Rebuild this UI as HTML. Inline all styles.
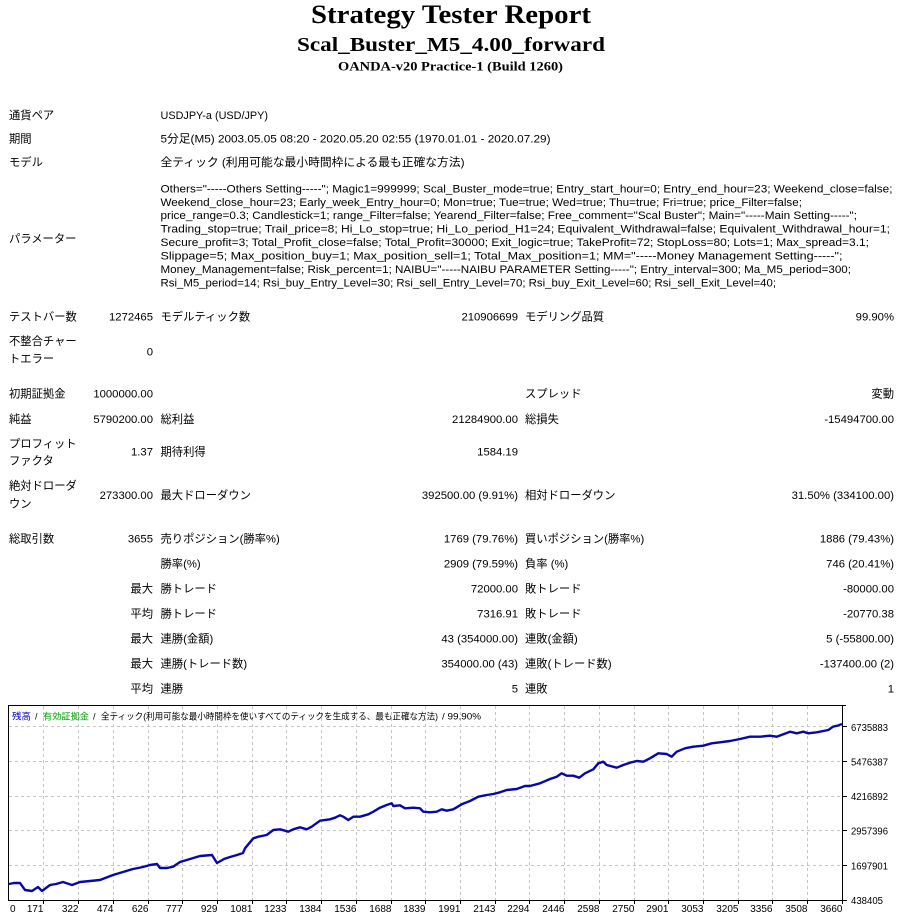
<!DOCTYPE html>
<html><head><meta charset="utf-8"><style>
html,body{margin:0;padding:0;background:#fff;}
svg{display:block;}
text{font-family:"Liberation Sans","Noto Sans CJK JP",sans-serif;font-size:11.3px;fill:#000;}
.h{font-family:"Liberation Serif","Noto Serif CJK SC",serif;font-weight:bold;}
.r{text-anchor:end;}
.ax{font-size:10px;}
.lg{font-size:9px;}
</style></head><body>
<svg width="900" height="923" viewBox="0 0 900 923" xmlns="http://www.w3.org/2000/svg">
<rect width="900" height="923" fill="#fff"/>
<!-- header -->
<text class="h" x="311" y="23" style="font-size:26px" textLength="280" lengthAdjust="spacingAndGlyphs">Strategy Tester Report</text>
<text class="h" x="297" y="51" style="font-size:20px" textLength="308" lengthAdjust="spacingAndGlyphs">Scal_Buster_M5_4.00_forward</text>
<text class="h" x="338" y="70.5" style="font-size:13px" textLength="225" lengthAdjust="spacingAndGlyphs">OANDA-v20 Practice-1 (Build 1260)</text>

<!-- top info -->
<text x="9" y="119">通貨ペア</text>
<text x="160.5" y="119" textLength="107.5" lengthAdjust="spacingAndGlyphs">USDJPY-a (USD/JPY)</text>
<text x="9" y="142.5">期間</text>
<text x="160.5" y="142.5" textLength="390" lengthAdjust="spacingAndGlyphs">5分足(M5) 2003.05.05 08:20 - 2020.05.20 02:55 (1970.01.01 - 2020.07.29)</text>
<text x="9" y="166">モデル</text>
<text x="160.5" y="166" textLength="304" lengthAdjust="spacingAndGlyphs">全ティック (利用可能な最小時間枠による最も正確な方法)</text>

<!-- parameters -->
<text x="9" y="242.3">パラメーター</text>
<text x="160.5" y="192.3" textLength="732" lengthAdjust="spacingAndGlyphs">Others="-----Others Setting-----"; Magic1=999999; Scal_Buster_mode=true; Entry_start_hour=0; Entry_end_hour=23; Weekend_close=false;</text>
<text x="160.5" y="205.8" textLength="641.5" lengthAdjust="spacingAndGlyphs">Weekend_close_hour=23; Early_week_Entry_hour=0; Mon=true; Tue=true; Wed=true; Thu=true; Fri=true; price_Filter=false;</text>
<text x="160.5" y="219.2" textLength="696.5" lengthAdjust="spacingAndGlyphs">price_range=0.3; Candlestick=1; range_Filter=false; Yearend_Filter=false; Free_comment="Scal Buster"; Main="-----Main Setting-----";</text>
<text x="160.5" y="232.7" textLength="729.5" lengthAdjust="spacingAndGlyphs">Trading_stop=true; Trail_price=8; Hi_Lo_stop=true; Hi_Lo_period_H1=24; Equivalent_Withdrawal=false; Equivalent_Withdrawal_hour=1;</text>
<text x="160.5" y="246.2" textLength="708.5" lengthAdjust="spacingAndGlyphs">Secure_profit=3; Total_Profit_close=false; Total_Profit=30000; Exit_logic=true; TakeProfit=72; StopLoss=80; Lots=1; Max_spread=3.1;</text>
<text x="160.5" y="259.6" textLength="682" lengthAdjust="spacingAndGlyphs">Slippage=5; Max_position_buy=1; Max_position_sell=1; Total_Max_position=1; MM="-----Money Management Setting-----";</text>
<text x="160.5" y="273.1" textLength="690.5" lengthAdjust="spacingAndGlyphs">Money_Management=false; Risk_percent=1; NAIBU="-----NAIBU PARAMETER Setting-----"; Entry_interval=300; Ma_M5_period=300;</text>
<text x="160.5" y="286.6" textLength="615.5" lengthAdjust="spacingAndGlyphs">Rsi_M5_period=14; Rsi_buy_Entry_Level=30; Rsi_sell_Entry_Level=70; Rsi_buy_Exit_Level=60; Rsi_sell_Exit_Level=40;</text>

<!-- stats -->
<text x="9" y="320.7">テストバー数</text>
<text class="r" x="153" y="320.7">1272465</text>
<text x="160.5" y="320.7">モデルティック数</text>
<text class="r" x="518" y="320.7">210906699</text>
<text x="525" y="320.7">モデリング品質</text>
<text class="r" x="894" y="320.7">99.90%</text>

<text x="9" y="345">不整合チャー</text>
<text x="9" y="362.3">トエラー</text>
<text class="r" x="153" y="355.7">0</text>

<text x="9" y="397.3">初期証拠金</text>
<text class="r" x="153" y="397.3">1000000.00</text>
<text x="525" y="397.3">スプレッド</text>
<text class="r" x="894" y="397.3">変動</text>

<text x="9" y="423">純益</text>
<text class="r" x="153" y="423">5790200.00</text>
<text x="160.5" y="423">総利益</text>
<text class="r" x="518" y="423">21284900.00</text>
<text x="525" y="423">総損失</text>
<text class="r" x="894" y="423">-15494700.00</text>

<text x="9" y="447.3">プロフィット</text>
<text x="9" y="464.7">ファクタ</text>
<text class="r" x="153" y="455.7">1.37</text>
<text x="160.5" y="455.7">期待利得</text>
<text class="r" x="518" y="455.7">1584.19</text>

<text x="9" y="489.7">絶対ドローダ</text>
<text x="9" y="507.3">ウン</text>
<text class="r" x="153" y="499">273300.00</text>
<text x="160.5" y="499">最大ドローダウン</text>
<text class="r" x="518" y="499">392500.00 (9.91%)</text>
<text x="525" y="499">相対ドローダウン</text>
<text class="r" x="894" y="499">31.50% (334100.00)</text>

<text x="9" y="542.3">総取引数</text>
<text class="r" x="153" y="542.3">3655</text>
<text x="160.5" y="542.3">売りポジション(勝率%)</text>
<text class="r" x="518" y="542.3">1769 (79.76%)</text>
<text x="525" y="542.3">買いポジション(勝率%)</text>
<text class="r" x="894" y="542.3">1886 (79.43%)</text>

<text x="160.5" y="567.3">勝率(%)</text>
<text class="r" x="518" y="567.3">2909 (79.59%)</text>
<text x="525" y="567.3">負率 (%)</text>
<text class="r" x="894" y="567.3">746 (20.41%)</text>

<text class="r" x="153" y="592.3">最大</text>
<text x="160.5" y="592.3">勝トレード</text>
<text class="r" x="518" y="592.3">72000.00</text>
<text x="525" y="592.3">敗トレード</text>
<text class="r" x="894" y="592.3">-80000.00</text>

<text class="r" x="153" y="617.3">平均</text>
<text x="160.5" y="617.3">勝トレード</text>
<text class="r" x="518" y="617.3">7316.91</text>
<text x="525" y="617.3">敗トレード</text>
<text class="r" x="894" y="617.3">-20770.38</text>

<text class="r" x="153" y="642.3">最大</text>
<text x="160.5" y="642.3">連勝(金額)</text>
<text class="r" x="518" y="642.3">43 (354000.00)</text>
<text x="525" y="642.3">連敗(金額)</text>
<text class="r" x="894" y="642.3">5 (-55800.00)</text>

<text class="r" x="153" y="667.3">最大</text>
<text x="160.5" y="667.3">連勝(トレード数)</text>
<text class="r" x="518" y="667.3">354000.00 (43)</text>
<text x="525" y="667.3">連敗(トレード数)</text>
<text class="r" x="894" y="667.3">-137400.00 (2)</text>

<text class="r" x="153" y="692.3">平均</text>
<text x="160.5" y="692.3">連勝</text>
<text class="r" x="518" y="692.3">5</text>
<text x="525" y="692.3">連敗</text>
<text class="r" x="894" y="692.3">1</text>

<!-- chart grid -->
<g stroke="#c4c4c4" stroke-width="1" stroke-dasharray="3,3" fill="none">
<path d="M43.5 706V900M78.5 706V900M113.5 706V900M148.5 706V900M182.5 706V900M217.5 706V900M252.5 706V900M286.5 706V900M321.5 706V900M356.5 706V900M391.5 706V900M425.5 706V900M460.5 706V900M495.5 706V900M529.5 706V900M564.5 706V900M599.5 706V900M634.5 706V900M668.5 706V900M703.5 706V900M738.5 706V900M772.5 706V900M807.5 706V900"/>
<path d="M9 865.5H842M9 830.5H842M9 796.5H842M9 761.5H842M9 726.5H842"/>
</g>
<!-- frame -->
<g stroke="#000" stroke-width="1" fill="none">
<path d="M8 705.5H846"/>
<path d="M8.5 705V901"/>
<path d="M842.5 705V901"/>
<path d="M8 900.5H843"/>
<path d="M843 865.5H847M843 830.5H847M843 796.5H847M843 761.5H847M843 726.5H847M843 900.5H847"/>
<path d="M43.5 900V904M78.5 900V904M113.5 900V904M148.5 900V904M182.5 900V904M217.5 900V904M252.5 900V904M286.5 900V904M321.5 900V904M356.5 900V904M391.5 900V904M425.5 900V904M460.5 900V904M495.5 900V904M529.5 900V904M564.5 900V904M599.5 900V904M634.5 900V904M668.5 900V904M703.5 900V904M738.5 900V904M772.5 900V904M807.5 900V904M842.5 900V904"/>
</g>

<!-- legend -->
<text class="lg" x="12" y="719.5" style="fill:#0000c0" textLength="19" lengthAdjust="spacingAndGlyphs">残高</text>
<text class="lg" x="35" y="719.5">/</text>
<text class="lg" x="43" y="719.5" style="fill:#00a000" textLength="46" lengthAdjust="spacingAndGlyphs">有効証拠金</text>
<text class="lg" x="93" y="719.5">/</text>
<text class="lg" x="101" y="719.5" textLength="337" lengthAdjust="spacingAndGlyphs">全ティック(利用可能な最小時間枠を使いすべてのティックを生成する、最も正確な方法)</text>
<text class="lg" x="442" y="719.5" textLength="39" lengthAdjust="spacingAndGlyphs">/ 99.90%</text>

<!-- series -->
<polyline fill="none" stroke="#0808a8" stroke-width="2.4" stroke-linejoin="round" points="9,884 14,883 20,883 25,890 32,891 38,887 42,891 50,885 56,884 63,882 72,885 80,882 90,881 100,880 113,875 123,872 133,869 143,867 150,865 157,864 160,868 167,868 173,866.7 180,862 190,859 200,856 212,855 217,863 224,859 230,857 237,855 243,853 245,848.3 253.3,838.3 258.3,836.7 266.7,835 273.3,830 280,829.3 285,830.7 288.3,831.7 293.3,829.3 300,827.3 306.7,829.3 311.7,826.7 320,820.7 330,819.3 335,817.7 340,815.3 343.3,816.7 348.3,820 353.3,816.7 360,816.7 368.3,814.3 373.3,811.7 380,807.7 386.7,805 391.7,803.3 393.3,806 400,805.3 405,808.3 413.3,807.7 420,808.3 423.3,811.7 430,812.3 436.7,811.7 441.7,809.3 446.7,810.7 453.3,809.3 461.7,804.3 470,801 478.3,796.7 486.7,795 493.3,794 500,792.3 506.7,790 516.7,789 525,786 530,786 540,783.3 550,779 556.7,776.7 561.7,773.3 566.7,775.7 573.3,775.7 579.3,777.7 585,773.3 593.3,769.3 598.3,763.3 603.3,761.7 606.7,765 616.7,767.7 623.3,765 630,762.7 636.7,761 643.3,761.7 650,758.3 658.3,753.3 666.7,754 671.7,756.7 676.7,751.7 685,748.3 693.3,746.7 703.3,745.7 711.7,743.3 720,742.3 730,741 740,739 750,736.7 760,736.7 770,735.7 776.7,736.7 783.3,734.3 790,731.7 796.7,733.3 803.3,731.7 808.3,733.3 816.7,732.3 823.3,731 828.3,730 833,726.7 838,725.5 842,724"/>

<!-- y axis labels -->
<text class="ax" x="851" y="731" textLength="37" lengthAdjust="spacingAndGlyphs">6735883</text>
<text class="ax" x="851" y="765.5" textLength="37" lengthAdjust="spacingAndGlyphs">5476387</text>
<text class="ax" x="851" y="800" textLength="37" lengthAdjust="spacingAndGlyphs">4216892</text>
<text class="ax" x="851" y="834.6" textLength="37" lengthAdjust="spacingAndGlyphs">2957396</text>
<text class="ax" x="851" y="869.3" textLength="37" lengthAdjust="spacingAndGlyphs">1697901</text>
<text class="ax" x="851" y="904" textLength="32" lengthAdjust="spacingAndGlyphs">438405</text>

<!-- x axis labels -->
<g>
<text class="ax" x="10" y="912">0</text>
<text class="ax r" x="43.5" y="912">171</text>
<text class="ax r" x="78.5" y="912">322</text>
<text class="ax r" x="113.5" y="912">474</text>
<text class="ax r" x="148.5" y="912">626</text>
<text class="ax r" x="182.5" y="912">777</text>
<text class="ax r" x="217.5" y="912">929</text>
<text class="ax r" x="252.5" y="912">1081</text>
<text class="ax r" x="286.5" y="912">1233</text>
<text class="ax r" x="321.5" y="912">1384</text>
<text class="ax r" x="356.5" y="912">1536</text>
<text class="ax r" x="391.5" y="912">1688</text>
<text class="ax r" x="425.5" y="912">1839</text>
<text class="ax r" x="460.5" y="912">1991</text>
<text class="ax r" x="495.5" y="912">2143</text>
<text class="ax r" x="529.5" y="912">2294</text>
<text class="ax r" x="564.5" y="912">2446</text>
<text class="ax r" x="599.5" y="912">2598</text>
<text class="ax r" x="634.5" y="912">2750</text>
<text class="ax r" x="668.5" y="912">2901</text>
<text class="ax r" x="703.5" y="912">3053</text>
<text class="ax r" x="738.5" y="912">3205</text>
<text class="ax r" x="772.5" y="912">3356</text>
<text class="ax r" x="807.5" y="912">3508</text>
<text class="ax r" x="842.5" y="912">3660</text>
</g>
</svg>
</body></html>
